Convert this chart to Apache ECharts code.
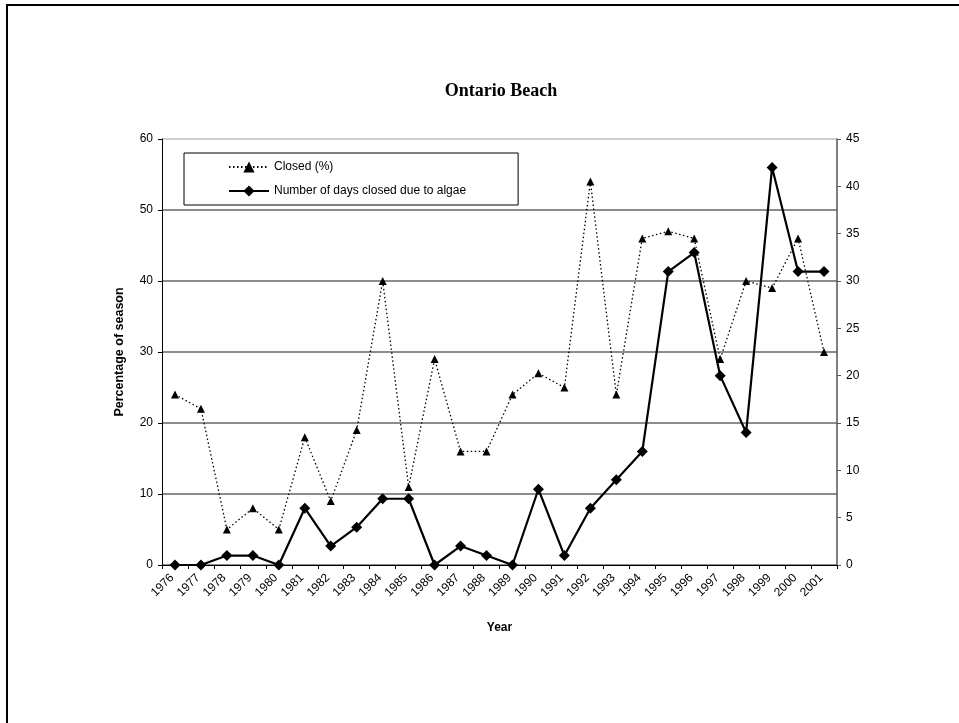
<!DOCTYPE html>
<html>
<head>
<meta charset="utf-8">
<script src="https://cdn.jsdelivr.net/npm/echarts@6/dist/echarts.min.js"></script>
<style>
  html, body { margin: 0; padding: 0; background: #fff; }
  #chart { width: 959px; height: 723px; }
</style>
</head>
<body>
<div id="chart"></div>
<script>
// Ontario Beach - closures by year
const years = ['1976','1977','1978','1979','1980','1981','1982','1983','1984','1985','1986','1987','1988',
  '1989','1990','1991','1992','1993','1994','1995','1996','1997','1998','1999','2000','2001'];
const closedPct = [24, 22, 5, 8, 5, 18, 9, 19, 40, 11, 29, 16, 16,
  24, 27, 25, 54, 24, 46, 47, 46, 29, 40, 39, 46, 30];
const daysAlgae = [0, 0, 1, 1, 0, 6, 2, 4, 7, 7, 0, 2, 1,
  0, 8, 1, 6, 9, 12, 31, 33, 20, 14, 42, 31, 31];

const font = "'Liberation Sans', Arial, sans-serif";

const chart = echarts.init(document.getElementById('chart'));

chart.setOption({
  backgroundColor: '#fff',
  animation: false,
  title: {
    text: 'Ontario Beach',
    left: 496,
    top: 77,
    textAlign: 'center',
    textStyle: { fontFamily: "'Liberation Serif', 'Times New Roman', serif", fontSize: 18, fontWeight: 'bold', color: '#000' }
  },
  graphic: [{
    type: 'rect',
    shape: { x: 7, y: 5, width: 1000, height: 800 },
    style: { fill: 'none', stroke: '#000', lineWidth: 2 },
    silent: true
  }],
  legend: {
    orient: 'vertical',
    left: 184,
    top: 153,
    padding: [8, 52, 8, 44],
    itemWidth: 40,
    itemHeight: 14,
    itemGap: 12,
    borderColor: '#000',
    borderWidth: 1,
    textStyle: { fontFamily: font, fontSize: 12, color: '#000' },
    data: ['Closed (%)', 'Number of days closed due to algae']
  },
  grid: { left: 162, right: 122, top: 139, bottom: 158 },
  xAxis: {
    type: 'category',
    data: years,
    boundaryGap: true,
    name: 'Year',
    nameLocation: 'middle',
    nameGap: 57,
    nameTextStyle: { fontFamily: font, fontSize: 12, fontWeight: 'bold', color: '#000' },
    axisLine: { lineStyle: { color: '#000', width: 1 } },
    axisTick: { show: true, interval: 0, length: 4, lineStyle: { color: '#000' } },
    axisLabel: { interval: 0, rotate: 45, fontFamily: font, fontSize: 12, color: '#000', margin: 8, padding: [0, 4, 0, 0] }
  },
  yAxis: [{
    type: 'value',
    min: 0, max: 60, interval: 10,
    name: 'Percentage of season',
    nameLocation: 'middle',
    nameGap: 36,
    nameTextStyle: { fontFamily: font, fontSize: 12.5, fontWeight: 'bold', color: '#000' },
    axisLine: { show: true, lineStyle: { color: '#000', width: 1 } },
    axisTick: { show: true, length: 4, lineStyle: { color: '#000' } },
    axisLabel: { fontFamily: font, fontSize: 12, color: '#000', margin: 9 },
    splitLine: { show: true, lineStyle: { color: ['#666', '#666', '#666', '#666', '#666', '#666', '#c0c0c0'], width: 1.5 } }
  }, {
    type: 'value',
    min: 0, max: 45, interval: 5,
    position: 'right',
    axisLine: { show: true, lineStyle: { color: '#555', width: 1.5 } },
    axisTick: { show: true, length: 4, lineStyle: { color: '#555' } },
    axisLabel: { fontFamily: font, fontSize: 12, color: '#000', margin: 9 },
    splitLine: { show: false }
  }],
  series: [{
    name: 'Closed (%)',
    type: 'line',
    yAxisIndex: 0,
    data: closedPct,
    symbol: 'triangle',
    symbolSize: 8,
    itemStyle: { color: '#000' },
    lineStyle: { color: '#000', width: 1.3, type: [1.5, 2.5] },
    z: 3
  }, {
    name: 'Number of days closed due to algae',
    type: 'line',
    yAxisIndex: 1,
    data: daysAlgae,
    symbol: 'diamond',
    symbolSize: 11,
    itemStyle: { color: '#000' },
    lineStyle: { color: '#000', width: 2.2 },
    z: 4
  }]
});
</script>
</body>
</html>
